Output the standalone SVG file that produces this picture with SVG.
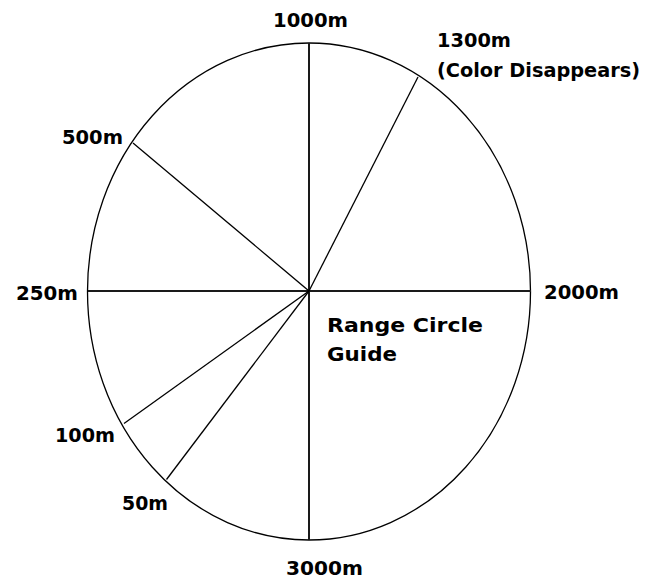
<svg xmlns="http://www.w3.org/2000/svg" width="660" height="579" viewBox="0 0 660 579">
<style>
.lbl{font-family:"DejaVu Sans","Liberation Sans",sans-serif;font-weight:bold;font-size:20px;fill:#000}
.axis{stroke:#1a1a1a;stroke-width:2;fill:none}
.ray{stroke:#000;stroke-width:1.3;fill:none}
.ring{stroke:#000;stroke-width:1.3;fill:none}
</style>
<rect width="660" height="579" fill="#fff"/>
<g id="circle"><ellipse class="ring" cx="309" cy="291.5" rx="221.5" ry="248.5"/></g>
<g id="connectors">
<line class="axis" x1="309" y1="43" x2="309" y2="540"/>
<line class="axis" x1="88" y1="291" x2="531" y2="291"/>
<line class="ray" x1="309" y1="291" x2="418" y2="77"/>
<line class="ray" x1="309" y1="291" x2="133" y2="143"/>
<line class="ray" x1="309" y1="291" x2="124" y2="423.5"/>
<line class="ray" x1="309" y1="291" x2="166.5" y2="479.5"/>
</g>
<g id="n1000"><text class="lbl" x="273" y="27" textLength="75" lengthAdjust="spacingAndGlyphs">1000m</text></g>
<g id="n1300"><text class="lbl" x="437" y="47" textLength="74" lengthAdjust="spacingAndGlyphs">1300m</text><text class="lbl" x="437" y="77" textLength="203" lengthAdjust="spacingAndGlyphs">(Color Disappears)</text></g>
<g id="n500"><text class="lbl" x="62" y="144" textLength="61" lengthAdjust="spacingAndGlyphs">500m</text></g>
<g id="n250"><text class="lbl" x="16" y="300" textLength="62" lengthAdjust="spacingAndGlyphs">250m</text></g>
<g id="n2000"><text class="lbl" x="544" y="299" textLength="75" lengthAdjust="spacingAndGlyphs">2000m</text></g>
<g id="guide"><text class="lbl" x="327" y="332" textLength="156" lengthAdjust="spacingAndGlyphs">Range Circle</text><text class="lbl" x="327" y="361" textLength="70" lengthAdjust="spacingAndGlyphs">Guide</text></g>
<g id="n100"><text class="lbl" x="55" y="442" textLength="60" lengthAdjust="spacingAndGlyphs">100m</text></g>
<g id="n50"><text class="lbl" x="122" y="510" textLength="46" lengthAdjust="spacingAndGlyphs">50m</text></g>
<g id="n3000"><text class="lbl" x="286" y="575" textLength="77" lengthAdjust="spacingAndGlyphs">3000m</text></g>
</svg>
